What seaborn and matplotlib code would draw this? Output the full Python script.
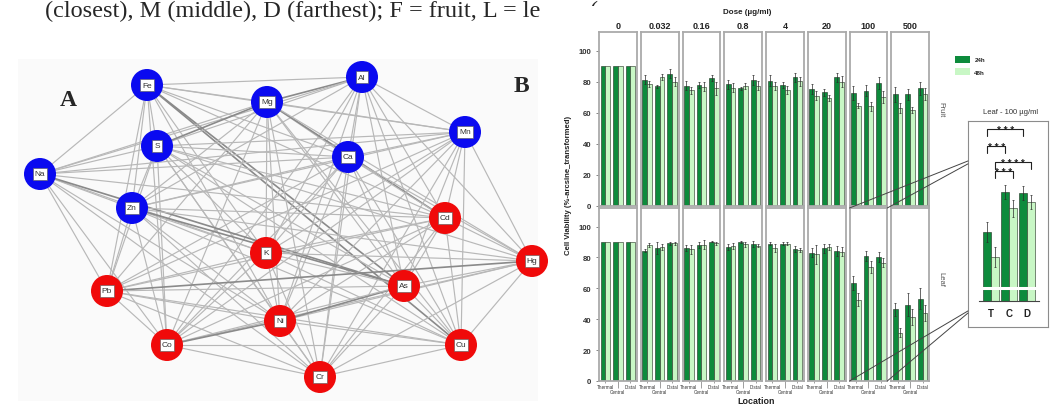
import numpy as np
import pandas as pd
import matplotlib.pyplot as plt
import seaborn as sns
from matplotlib.patches import Circle, Rectangle, Patch, ConnectionPatch

W, H = 1053, 406

# ---------------- panel A : element network ----------------
node_names = ['Fe', 'Al', 'Mg', 'Mn', 'S', 'Ca', 'Na', 'Zn',
              'Cd', 'K', 'Hg', 'Pb', 'As', 'Ni', 'Co', 'Cu', 'Cr']
node_x = [147, 362, 267, 465, 157, 348, 40, 132, 445, 266, 532, 107, 404, 280, 167, 461, 320]
node_y = [86, 78, 103, 133, 147, 158, 175, 209, 219, 254, 262, 292, 287, 322, 346, 346, 378]
node_group = ['blue'] * 8 + ['red'] * 9

edges = {
    'Fe': ['Al', 'Mg', 'S', 'Na', 'Zn', 'Ca', 'Cd', 'K', 'Pb', 'As', 'Ni', 'Co', 'Cu', 'Mn'],
    'Al': ['Mg', 'Mn', 'S', 'Ca', 'Zn', 'Cd', 'K', 'Hg', 'As', 'Ni', 'Co', 'Cu', 'Cr', 'Na'],
    'Mg': ['S', 'Mn', 'Na', 'Ca', 'Zn', 'Cd', 'K', 'As', 'Ni', 'Pb', 'Co', 'Cu', 'Cr', 'Hg'],
    'Mn': ['S', 'Ca', 'Na', 'Zn', 'Cd', 'Hg', 'K', 'As', 'Ni', 'Pb', 'Co', 'Cu', 'Cr'],
    'S': ['Na', 'Zn', 'Ca', 'Cd', 'K', 'Pb', 'As', 'Ni', 'Co', 'Cu', 'Cr', 'Hg'],
    'Ca': ['Na', 'Zn', 'Cd', 'K', 'Pb', 'As', 'Ni', 'Co', 'Cu', 'Cr', 'Hg'],
    'Na': ['Zn', 'Cd', 'K', 'Pb', 'As', 'Ni', 'Co', 'Cr'],
    'Zn': ['Cd', 'K', 'Hg', 'Pb', 'As', 'Ni', 'Co', 'Cu', 'Cr'],
    'Cd': ['K', 'Hg', 'Pb', 'As', 'Ni', 'Co', 'Cu', 'Cr'],
    'K': ['Hg', 'Pb', 'As', 'Ni', 'Co', 'Cu', 'Cr'],
    'Hg': ['Pb', 'As', 'Ni', 'Co', 'Cu', 'Cr'],
    'Pb': ['As', 'Ni', 'Co', 'Cu', 'Cr'],
    'As': ['Ni', 'Co', 'Cu', 'Cr'],
    'Ni': ['Co', 'Cu', 'Cr'],
    'Co': ['Cu', 'Cr'],
    'Cu': ['Cr'],
}
strong_edges = [('Ni', 'As'), ('Co', 'Ni'), ('Mg', 'Al'), ('Fe', 'Cu'), ('Zn', 'As'),
                ('Na', 'As'), ('S', 'Mg'), ('Pb', 'Hg'), ('Fe', 'As'), ('Mg', 'Cd')]

# ---------------- panel B : cell viability ----------------
doses = ['0', '0.032', '0.16', '0.8', '4', '20', '100', '500']
locations = ['Thermal', 'Central', 'Distal']
times = ['24h', '48h']
tissues = ['Fruit', 'Leaf']

# values per dose: [Thermal, Central, Distal]
fruit_24 = [[90, 90, 90], [81.3, 77, 85.2], [77.4, 78, 82.2], [78.3, 75.7, 81.1],
            [80.6, 77.9, 82.8], [75.3, 73.1, 82.8], [72.5, 74.2, 79.2], [71.9, 72, 75.7]]
fruit_48 = [[90, 90, 90], [78.5, 83.2, 80], [74.4, 76.8, 75.7], [76.1, 77.4, 77.4],
            [77, 74.6, 80.2], [71, 69.3, 80], [64.5, 64.1, 70.3], [63, 62, 72]]
leaf_24 = [[90, 90, 90], [84.2, 85.9, 89.3], [86.3, 88.3, 90.2], [86.8, 90, 88.5],
           [88.9, 88.9, 85.3], [83.1, 85.9, 84.2], [63.5, 81, 80.5], [46.4, 49.4, 53.2]]
leaf_48 = [[90, 90, 90], [88, 86.7, 89.1], [85.3, 88.3, 89.1], [87.2, 88.5, 87.6],
           [86.3, 88.9, 84.8], [82, 86.7, 83.8], [52.6, 73.9, 76.7], [31.2, 41.5, 44.2]]

fruit_24_err = [[0, 0, 0], [3, 1, 3], [3, 2, 2], [3, 1, 3], [3.5, 2, 3], [3.5, 2, 3], [4.5, 3.5, 4], [5, 3.5, 4]]
fruit_48_err = [[0, 0, 0], [2, 2, 3], [2, 3, 4], [3, 2, 3], [2.5, 2.5, 3], [3, 2, 3.5], [1.5, 3, 4], [3, 2, 4]]
leaf_24_err = [[0, 0, 0], [1, 4, 1], [2, 2, 0.5], [2, 0.5, 2], [1, 1, 2], [3, 3, 3], [4.3, 3.2, 3.2], [4, 7.5, 6.8]]
leaf_48_err = [[0, 0, 0], [1.5, 2, 1], [3, 3, 1], [2, 1.5, 1], [2.5, 1, 1.5], [6, 2, 3], [4.3, 3.8, 3.2], [2.8, 5.3, 5.1]]

# inset significance brackets (bar index pairs, ordered T24 T48 C24 C48 D24 D48)
bracket_pairs = [(0, 4), (0, 2), (1, 5), (1, 3)]
bracket_y = [108.5, 101, 94, 90]
bracket_stars = ['* * *', '* * *', '* * * *', '* * *']

rows = []
for tissue, v24, v48, e24, e48 in [('Fruit', fruit_24, fruit_48, fruit_24_err, fruit_48_err),
                                   ('Leaf', leaf_24, leaf_48, leaf_24_err, leaf_48_err)]:
    for d, dose in enumerate(doses):
        for l, loc in enumerate(locations):
            rows.append((tissue, dose, loc, '24h', v24[d][l], e24[d][l]))
            rows.append((tissue, dose, loc, '48h', v48[d][l], e48[d][l]))
df = pd.DataFrame(rows, columns=['tissue', 'dose', 'location', 'time', 'viability', 'err'])

c24, c48 = '#0d8b3c', '#c8f7c5'

sns.set_style('white')
plt.rcParams['font.family'] = ['Liberation Sans', 'DejaVu Sans']

fig = plt.figure(figsize=(W / 100, H / 100), dpi=100)


def px_axes(x0, y0, x1, y1):
    return fig.add_axes([x0 / W, 1 - y1 / H, (x1 - x0) / W, (y1 - y0) / H])


def draw_bars(ax, sub, width):
    sns.barplot(data=sub, x='location', y='viability', hue='time', order=locations,
                hue_order=times, palette=[c24, c48], saturation=1, width=width,
                errorbar=None, legend=False, edgecolor='#1e2e1e', linewidth=0.4, ax=ax)
    bars = sorted(ax.patches, key=lambda p: p.get_x())
    xs = [p.get_x() + p.get_width() / 2 for p in bars]
    keep = sub['err'].values > 0
    if keep.any():
        ax.errorbar(np.array(xs)[keep], sub['viability'].values[keep], yerr=sub['err'].values[keep],
                    fmt='none', ecolor='#2a2a2a', elinewidth=0.5, capsize=0.8, capthick=0.5)
    ax.set_xlabel('')
    ax.set_ylabel('')
    return xs


# background layer (panel A, captions)
base = px_axes(0, 0, W, H)
base.set_xlim(0, W)
base.set_ylim(H, 0)
base.axis('off')

base.text(45, 17, '(closest), M (middle), D (farthest); F = fruit, L = leaves (',
          fontfamily='Liberation Serif', fontsize=17.5, va='baseline', zorder=3)
# panel B sits over the end of the caption line
base.add_patch(Rectangle((541, 7), W - 541, 30, fc='white', ec='none', zorder=5))
base.add_patch(Rectangle((18, 60), 520, 342, fc='#fafafa', ec='none', zorder=0))

pos = dict(zip(node_names, zip(node_x, node_y)))
for a, nbrs in edges.items():
    for b in nbrs:
        strong = (a, b) in strong_edges or (b, a) in strong_edges
        base.plot([pos[a][0], pos[b][0]], [pos[a][1], pos[b][1]],
                  color='#8a8a8a' if strong else '#b8b8b8', lw=1.2 if strong else 0.85, zorder=1)
node_colors = {'blue': '#0a0af0', 'red': '#f00a0a'}
for name, x, y, g in zip(node_names, node_x, node_y, node_group):
    base.add_patch(Circle((x, y), 16, fc=node_colors[g], ec='none', zorder=3))
    base.text(x, y, name, ha='center', va='center', fontsize=6, color='#333333', zorder=4,
              bbox=dict(boxstyle='square,pad=0.25', fc='white', ec='#555555', lw=0.4))

base.text(68, 100, 'A', fontfamily='Liberation Serif', fontsize=17, fontweight='bold',
          ha='center', va='center', zorder=4)
base.text(521, 87, 'B', fontfamily='Liberation Serif', fontsize=17, fontweight='bold',
          ha='center', va='center', zorder=6)

# facets
row_top = [33, 209]
row_bot = [207, 382]
axes = {}
for r, tissue in enumerate(tissues):
    for c, dose in enumerate(doses):
        x0 = 599 + c * 41.75
        ax = px_axes(x0, row_top[r], x0 + 37.75, row_bot[r])
        sub = df[(df.tissue == tissue) & (df.dose == dose)]
        draw_bars(ax, sub, 0.75)
        ax.set_xlim(-0.5, 2.5)
        ax.set_ylim(0, 112)
        for s in ax.spines.values():
            s.set_color('#aaaaaa')
            s.set_linewidth(1.3)
        ax.set_yticks([0, 20, 40, 60, 80, 100])
        if c == 0:
            ax.tick_params(axis='y', labelsize=5.6, labelcolor='#333333', length=2.5,
                           width=0.5, color='#555555', pad=3, left=True)
            for t in ax.get_yticklabels():
                t.set_fontweight('bold')
        else:
            ax.tick_params(axis='y', labelleft=False, left=False)
        if r == 1:
            ax.set_xticks([0, 2], [locations[0], locations[2]], fontsize=3.3, color='#333333')
            ax.set_xticks([1], [locations[1]], minor=True, fontsize=3.3, color='#333333')
            ax.tick_params(axis='x', which='major', length=1.5, width=0.4, color='#555555',
                           pad=0.6, bottom=True)
            ax.tick_params(axis='x', which='minor', length=5, width=0.4, color='#555555',
                           pad=0.6, bottom=True)
        else:
            ax.set_xticks([])
            ax.annotate(dose, xy=(0.5, 1), xycoords='axes fraction', xytext=(0, 1.2),
                        textcoords='offset points', ha='center', va='bottom',
                        fontsize=6.5, fontweight='bold', color='#222222')
        axes[(tissue, dose)] = ax

fig.text(747 / W, 1 - 12 / H, 'Dose (µg/ml)', ha='center', va='center',
         fontsize=5.8, fontweight='bold', color='#222222')
fig.text(568 / W, 1 - 185 / H, 'Cell Viability (%-arcsine_transformed)', rotation=90,
         ha='center', va='center', fontsize=5.6, fontweight='bold', color='#222222')
fig.text(756 / W, 1 - 402 / H, 'Location', ha='center', va='center',
         fontsize=6.4, fontweight='bold', color='#222222')
fig.text(941 / W, 1 - 110 / H, 'Fruit', rotation=270, ha='center', va='center',
         fontsize=5.5, color='#555555')
fig.text(941 / W, 1 - 279 / H, 'Leaf', rotation=270, ha='center', va='center',
         fontsize=5.5, color='#555555')

fig.legend(handles=[Patch(fc=c24, ec='none', label='24h'), Patch(fc=c48, ec='none', label='48h')],
           loc='upper left', bbox_to_anchor=(955 / W, 1 - 57 / H), frameon=False,
           prop={'size': 4.5, 'weight': 'bold'}, handlelength=2.4, handleheight=1.3,
           labelspacing=0.9, handletextpad=0.7, borderaxespad=0, borderpad=0)

# inset : Leaf - 100 µg/ml
frame = px_axes(968, 122, 1048, 328)
frame.set_xticks([])
frame.set_yticks([])
for s in frame.spines.values():
    s.set_color('#8c8c8c')
    s.set_linewidth(0.8)

ins = px_axes(979, 122, 1039, 302)
ins.patch.set_alpha(0)
leaf100 = df[(df.tissue == 'Leaf') & (df.dose == '100')]
xs = draw_bars(ins, leaf100, 0.85)
ins.set_xlim(-0.67, 2.67)
ins.set_ylim(33.4, 112)
ins.axhline(39, color='white', lw=2.2, zorder=5)
for (i, j), y, s in zip(bracket_pairs, bracket_y, bracket_stars):
    ins.plot([xs[i], xs[i], xs[j], xs[j]], [y - 3, y, y, y - 3], color='#222222', lw=0.8)
    ins.text((xs[i] + xs[j]) / 2, y - 1.6, s, ha='center', va='baseline', fontsize=7,
             fontweight='bold', color='#222222')
ins.set_yticks([])
ins.set_xticks([0, 1, 2])
ins.set_xticklabels(['T', 'C', 'D'], fontsize=7, fontweight='bold', color='#222222')
ins.tick_params(axis='x', length=0, pad=5)
for side in ['left', 'top', 'right']:
    ins.spines[side].set_visible(False)
ins.spines['bottom'].set_color('#444444')
ins.spines['bottom'].set_linewidth(0.8)
fig.text(1011 / W, 1 - 112 / H, 'Leaf - 100 µg/ml', ha='center', va='center',
         fontsize=5.5, color='#333333')

l100 = axes[('Leaf', '100')]
for (xa, ya), yb in zip([(0, 1), (1, 1), (0, 0), (1, 0)], [0.806, 0.792, 0.078, 0.068]):
    con = ConnectionPatch(xyA=(xa, ya), coordsA=l100.transAxes, xyB=(0, yb),
                          coordsB=frame.transAxes, color='#444444', lw=0.7)
    fig.add_artist(con)

fig.savefig('out.png', dpi=100)
